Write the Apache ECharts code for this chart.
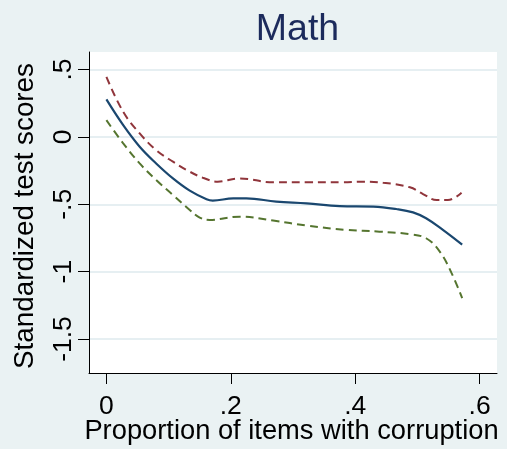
<!DOCTYPE html>
<html>
<head>
<meta charset="utf-8">
<script src="https://cdn.jsdelivr.net/npm/echarts@6/dist/echarts.min.js"></script>
<style>
html,body{margin:0;padding:0;background:#eaf2f3;}
#chart{width:507px;height:449px;}
</style>
</head>
<body>
<div id="chart"></div>
<script>
// Data
const fitX = [0, 0.027, 0.0535, 0.080, 0.107, 0.134, 0.161, 0.171, 0.204, 0.225, 0.273, 0.322, 0.375, 0.429, 0.466, 0.493, 0.514, 0.541, 0.572];
const fitY = [0.278, 0.087, -0.073, -0.197, -0.308, -0.399, -0.463, -0.473, -0.456, -0.456, -0.48, -0.493, -0.513, -0.517, -0.535, -0.56, -0.604, -0.69, -0.80];

const upperX = [0, 0.027, 0.0535, 0.080, 0.107, 0.134, 0.155, 0.179, 0.214, 0.268, 0.322, 0.380, 0.413, 0.445, 0.488, 0.509, 0.531, 0.549, 0.571];
const upperY = [0.445, 0.186, 0.026, -0.098, -0.184, -0.258, -0.303, -0.332, -0.308, -0.337, -0.337, -0.337, -0.332, -0.34, -0.374, -0.424, -0.468, -0.468, -0.414];

const lowerX = [0, 0.027, 0.0535, 0.080, 0.107, 0.134, 0.150, 0.166, 0.214, 0.268, 0.322, 0.386, 0.439, 0.488, 0.514, 0.536, 0.555, 0.572];
const lowerY = [0.124, -0.048, -0.197, -0.32, -0.431, -0.542, -0.599, -0.616, -0.592, -0.621, -0.658, -0.69, -0.703, -0.722, -0.752, -0.851, -1.011, -1.196];

const xTicks = [0, 0.2, 0.4, 0.6];
const yTicks = [-1.5, -1, -0.5, 0, 0.5];

const titleText = 'Math';
const xTitle = 'Proportion of items with corruption';
const yTitle = 'Standardized test scores';

function pairs(xs, ys) { return xs.map((x, i) => [x, ys[i]]); }
function fmt(v) {
  if (v === 0) return '0';
  let s = String(v);
  s = s.replace(/^0\./, '.').replace(/^-0\./, '-.');
  return s;
}

const chart = echarts.init(document.getElementById('chart'), null, {renderer: 'canvas'});
const font = 'Liberation Sans, Arial, sans-serif';

chart.setOption({
  backgroundColor: '#eaf2f3',
  animation: false,
  title: {
    text: titleText,
    left: 292.5,
    top: 6,
    textAlign: 'center',
    textStyle: {fontFamily: font, fontSize: 37.5, fontWeight: 'normal', color: '#1c2b5c'}
  },
  grid: {left: 89, right: 10, top: 52, bottom: 76, containLabel: false,
         outerBoundsMode: 'none',
         show: true, backgroundColor: '#ffffff', borderWidth: 0},
  xAxis: {
    type: 'value', min: -0.028, max: 0.628,
    name: xTitle, nameLocation: 'middle', nameGap: 45, nameMoveOverlap: false,
    nameTextStyle: {fontFamily: font, fontSize: 27.3, color: '#000', padding: [0, 3, 0, 0]},
    axisLine: {show: true, onZero: false, lineStyle: {color: '#000', width: 1}},
    axisTick: {show: true, length: 11, inside: false, customValues: xTicks, lineStyle: {color: '#000'}},
    axisLabel: {show: true, customValues: xTicks, margin: 20.5, formatter: fmt,
                fontFamily: font, fontSize: 26.5, color: '#000'},
    splitLine: {show: false}
  },
  yAxis: {
    type: 'value', min: -1.752, max: 0.63,
    name: yTitle, nameLocation: 'middle', nameGap: 50, nameRotate: 90, nameMoveOverlap: false,
    nameTextStyle: {fontFamily: font, fontSize: 27.8, color: '#000', padding: [0, 7, 0, 0]},
    axisLine: {show: true, onZero: false, lineStyle: {color: '#000', width: 1}},
    axisTick: {show: true, length: 11, inside: false, customValues: yTicks, lineStyle: {color: '#000'}},
    axisLabel: {show: true, customValues: yTicks, margin: 12, rotate: 90, formatter: fmt,
                fontFamily: font, fontSize: 26.5, color: '#000', align: 'center', verticalAlign: 'bottom'},
    splitLine: {show: true, lineStyle: {color: '#e6eff2', width: 2}}
  },
  series: [
    {type: 'line', data: pairs(upperX, upperY), smooth: 0.4, symbol: 'none',
     lineStyle: {color: '#90353b', width: 2, type: [8, 5]}},
    {type: 'line', data: pairs(lowerX, lowerY), smooth: 0.4, symbol: 'none',
     lineStyle: {color: '#55752f', width: 2, type: [8, 5]}},
    {type: 'line', data: pairs(fitX, fitY), smooth: 0.4, symbol: 'none',
     lineStyle: {color: '#1a476f', width: 2.2, type: 'solid'}}
  ]
});
</script>
</body>
</html>
